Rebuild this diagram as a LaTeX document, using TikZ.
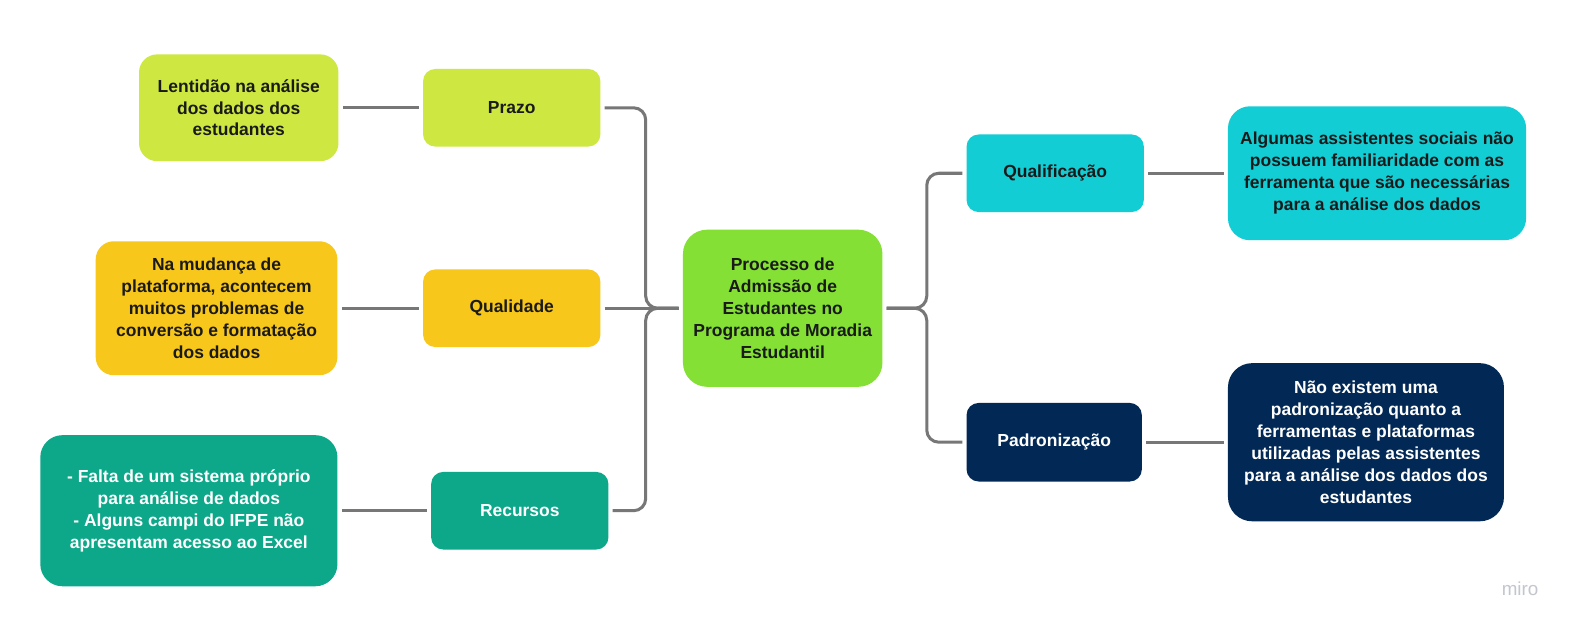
\documentclass[tikz,border=0pt]{standalone}
\usepackage{fontspec}
\setmainfont{Liberation Sans}
\usepackage{xcolor}
\usetikzlibrary{positioning}
\definecolor{limao}{HTML}{CEE841}
\definecolor{amarelo}{HTML}{F8C71B}
\definecolor{verdeagua}{HTML}{0DA789}
\definecolor{verde}{HTML}{84E034}
\definecolor{ciano}{HTML}{13CDD4}
\definecolor{marinho}{HTML}{022956}
\definecolor{texto}{HTML}{1A1A1A}
\definecolor{linha}{HTML}{777777}
\definecolor{marca}{HTML}{C3C6CE}
\newdimen\pxu \pxu=0.75pt

\begin{document}
\begin{tikzpicture}[x=1\pxu, y=-1\pxu,
    caixa/.style={rounded corners=18\pxu, inner sep=0pt, align=center, text=texto,
        font=\bfseries\fontsize{13}{16.3}\selectfont},
    tema/.style={caixa, rounded corners=12\pxu, minimum width=176\pxu, minimum height=77\pxu},
    ligacao/.style={draw=linha, line width=3\pxu, rounded corners=12\pxu,
        shorten <=4\pxu, shorten >=4\pxu}]
% fond
\useasboundingbox[fill=white] (0,0) rectangle (1567.5,628.3);
% centre
\node[caixa, fill=verde, rounded corners=24\pxu, minimum width=198\pxu, minimum height=156\pxu] (centro) at (777,306)
    {Processo de\\Admissão de\\Estudantes no\\Programa de Moradia\\Estudantil};
% gauche
\node[tema, fill=limao] (prazo) at (508,107) {Prazo};
\node[tema, fill=amarelo] (qualidade) at (508,306) {Qualidade};
\node[tema, fill=verdeagua, text=white] (recursos) at (516,507) {Recursos};
\node[caixa, fill=limao, minimum width=198\pxu, minimum height=106\pxu] (lentidao) at (237,107)
    {Lentidão na análise\\dos dados dos\\estudantes};
\node[caixa, fill=amarelo, minimum width=240\pxu, minimum height=133\pxu] (mudanca) at (215,306)
    {Na mudança de\\plataforma, acontecem\\muitos problemas de\\conversão e formatação\\dos dados};
\node[caixa, fill=verdeagua, text=white, rounded corners=22\pxu, minimum width=295\pxu, minimum height=150\pxu] (falta) at (187.5,507)
    {- Falta de um sistema próprio\\para análise de dados\\- Alguns campi do IFPE não\\apresentam acesso ao Excel};
% droite
\node[tema, fill=ciano] (qualificacao) at (1047.5,172) {Qualificação};
\node[tema, fill=marinho, text=white, minimum width=174\pxu, minimum height=78\pxu] (padronizacao) at (1046.5,439) {Padronização};
\node[caixa, fill=ciano, rounded corners=22\pxu, minimum width=296\pxu, minimum height=133\pxu] (familiaridade) at (1367,172)
    {Algumas assistentes sociais não\\possuem familiaridade com as\\ferramenta que são necessárias\\para a análise dos dados};
\node[caixa, fill=marinho, text=white, rounded corners=24\pxu, minimum width=274\pxu, minimum height=157\pxu] (padrao) at (1356,439)
    {Não existem uma\\padronização quanto a\\ferramentas e plataformas\\utilizadas pelas assistentes\\para a análise dos dados dos\\estudantes};
% jonctions
\coordinate (ge) at (641,306);
\coordinate (dr) at (920,306);
\draw[ligacao] (prazo.east) -| (ge) -- (centro.west);
\draw[ligacao] (qualidade.east) -- (centro.west);
\draw[ligacao] (recursos.east) -| (ge) -- (centro.west);
\draw[ligacao] (centro.east) -- (dr) |- (qualificacao.west);
\draw[ligacao] (centro.east) -- (dr) |- (padronizacao.west);
\draw[ligacao] (lentidao.east) -- (prazo.west);
\draw[ligacao] (mudanca.east) -- (qualidade.west);
\draw[ligacao] (falta.east) -- (recursos.west);
\draw[ligacao] (qualificacao.east) -- (familiaridade.west);
\draw[ligacao] (padronizacao.east) -- (padrao.west);
% marque
\node[text=marca, font=\fontsize{14}{14}\selectfont] (miro) at (1509,584) {miro};
\end{tikzpicture}
\end{document}
